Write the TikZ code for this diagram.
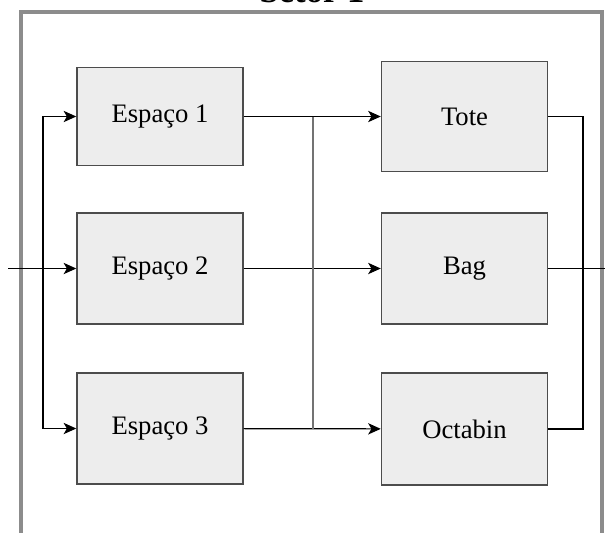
\documentclass[tikz,border=0pt]{standalone}
\usepackage{fontspec}
\setmainfont{Liberation Serif}
\usetikzlibrary{arrows.meta}

\tikzset{
  caixa/.style={draw=black!70, fill=black!7, line width=1.1pt, inner sep=0pt,
    minimum width=124.5pt, font=\fontsize{20}{24}\selectfont},
  seta/.style={-{Stealth[length=9.5pt,width=8.5pt,inset=2.5pt]}, line width=0.9pt},
  linha/.style={line width=0.9pt}
}

\begin{document}
\begin{tikzpicture}[x=0.75pt,y=-0.75pt]
    \useasboundingbox (0,0) rectangle (605,532);
    \clip (0,0) rectangle (605,532);

    %moldura do setor
    \draw[line width=2.4pt, draw=black!45] (21,12) rectangle (602,560); %Setor
    \node[font=\bfseries\fontsize{26}{30}\selectfont] (titulo) at (312,-9) {Setor 1};

    %espacos
    \node[caixa, minimum height=73.5pt] (e1) at (160,116.5) {Espaço 1};
    \node[caixa, minimum height=83pt] (e2) at (160,268.5) {Espaço 2};
    \node[caixa, minimum height=83pt] (e3) at (160,428.5) {Espaço 3};

    %embalagens
    \node[caixa, minimum height=82.5pt] (tote) at (464.5,116.5) {Tote};
    \node[caixa, minimum height=83pt] (bag) at (464.5,268.5) {Bag};
    \node[caixa, minimum height=84pt] (octabin) at (464.5,429) {Octabin};

    %pontos livres
    \coordinate (entrada) at (8,268.5);
    \coordinate (ramo) at (43,268.5);
    \coordinate (juntaA) at (313,116.5);
    \coordinate (juntaB) at (313,428.5);
    \coordinate (retorno) at (583,268.5);
    \coordinate (saida) at (606,268.5);

    %entrada para os espacos
    \draw[seta] (entrada) -- (e2);
    \draw[seta] (ramo) |- (e1.west);
    \draw[seta] (ramo) |- (e3.west);

    %espacos para embalagens
    \draw[seta] (e1) -- (tote);
    \draw[seta] (e2) -- (bag);
    \draw[seta] (e3) -- (octabin);
    \draw[linha, draw=black!55] (juntaA) -- (juntaB); %ligacao vertical

    %saidas
    \draw[linha] (tote.east) -| (retorno) |- (octabin.east);
    \draw[linha] (bag.east) -- (saida);
\end{tikzpicture}
\end{document}
